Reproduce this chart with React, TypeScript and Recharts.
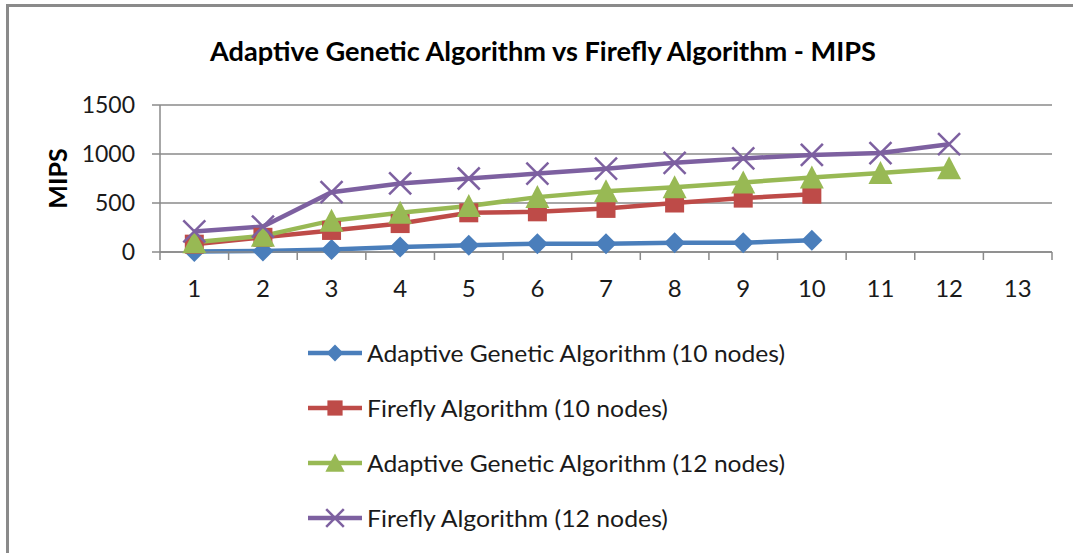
import React from "react";
import { LineChart, Line, XAxis, YAxis, CartesianGrid, Legend, Label } from "recharts";

const categories = [1, 2, 3, 4, 5, 6, 7, 8, 9, 10, 11, 12, 13];
const boundaryTicks = [0.5, 1.5, 2.5, 3.5, 4.5, 5.5, 6.5, 7.5, 8.5, 9.5, 10.5, 11.5, 12.5, 13.5];
const yTicks = [0, 500, 1000, 1500];

const aga10 = [5, 10, 25, 50, 70, 85, 85, 95, 95, 120];
const ff10 = [80, 150, 220, 290, 400, 410, 445, 500, 550, 590];
const aga12 = [100, 165, 320, 400, 470, 560, 620, 660, 710, 760, 805, 855];
const ff12 = [210, 260, 610, 700, 750, 800, 850, 910, 955, 990, 1010, 1100];

const seriesNames = [
  "Adaptive Genetic Algorithm (10 nodes)",
  "Firefly Algorithm (10 nodes)",
  "Adaptive Genetic Algorithm (12 nodes)",
  "Firefly Algorithm (12 nodes)",
];
const seriesKeys = ["aga10", "ff10", "aga12", "ff12"];
const seriesColors = ["#4A7EBB", "#BE4B48", "#98B954", "#7D60A0"];
const seriesShapes = ["diamond", "square", "triangle", "x"];

const data = categories.map((c, i) => ({
  x: c,
  aga10: aga10[i],
  ff10: ff10[i],
  aga12: aga12[i],
  ff12: ff12[i],
}));

const FONT = "Lato, 'Noto Sans', sans-serif";

function Marker({ shape, cx, cy, color, s = 1 }: any) {
  if (cx == null || cy == null || isNaN(cx) || isNaN(cy)) return null;
  if (shape === "diamond") {
    const r = 10.5 * s;
    return <polygon points={`${cx},${cy - r} ${cx + r},${cy} ${cx},${cy + r} ${cx - r},${cy}`} fill={color} />;
  }
  if (shape === "square") {
    const h = 9.5 * s;
    return <rect x={cx - h} y={cy - h} width={2 * h} height={2 * h} fill={color} />;
  }
  if (shape === "triangle") {
    const w = 12 * s;
    return <polygon points={`${cx},${cy - 12 * s} ${cx + w},${cy + 11 * s} ${cx - w},${cy + 11 * s}`} fill={color} />;
  }
  const a = 11 * s;
  return (
    <g stroke={color} strokeWidth={2.5}>
      <line x1={cx - a} y1={cy - a} x2={cx + a} y2={cy + a} />
      <line x1={cx - a} y1={cy + a} x2={cx + a} y2={cy - a} />
    </g>
  );
}

function makeDot(shape: string, color: string) {
  return (props: any) => {
    const { cx, cy, index } = props;
    return (
      <g key={`d-${shape}-${index}`}>
        <Marker shape={shape} cx={cx} cy={cy} color={color} />
      </g>
    );
  };
}

const EmptyTick = () => <g />;

const LegendContent = () => (
  <svg width={520} height={215}>
    {seriesNames.map((name, i) => {
      const cy = 23 + i * 55;
      return (
        <g key={name}>
          <line x1={8} y1={cy} x2={62} y2={cy} stroke={seriesColors[i]} strokeWidth={4.5} />
          <Marker shape={seriesShapes[i]} cx={35} cy={cy} color={seriesColors[i]} s={0.8} />
          <text
            x={67}
            y={cy + 8.7}
            fontFamily={FONT}
            fontSize={24}
            fill="#1a1a1a"
            textLength={i % 2 === 0 ? 418 : 301}
            lengthAdjust="spacingAndGlyphs"
          >
            {name}
          </text>
        </g>
      );
    })}
  </svg>
);

export default function App() {
  return (
    <div style={{ position: "absolute", left: 0, top: 0, width: 1073, height: 553, background: "#fff", overflow: "hidden" }}>
      <div style={{ position: "absolute", left: 6, top: 4, width: 1067, height: 2.5, background: "#8a8a8a" }} />
      <div style={{ position: "absolute", left: 6, top: 4, width: 2.5, height: 549, background: "#8a8a8a" }} />
      <svg style={{ position: "absolute", left: 0, top: 0 }} width={1073} height={80}>
        <text
          x={543}
          y={60.5}
          textAnchor="middle"
          fontFamily={FONT}
          fontWeight="bold"
          fontSize={27}
          fill="#000"
          textLength={666}
          lengthAdjust="spacingAndGlyphs"
        >
          Adaptive Genetic Algorithm vs Firefly Algorithm - MIPS
        </text>
      </svg>
      <div style={{ position: "absolute", left: 0, top: 0 }}>
        <LineChart width={1073} height={553} data={data} margin={{ top: 105, right: 21, bottom: 299, left: 0 }}>
          <CartesianGrid vertical={false} stroke="#8a8a8a" strokeWidth={1.5} />
          <XAxis
            dataKey="x"
            type="number"
            domain={[0.5, 13.5]}
            ticks={boundaryTicks}
            interval={0}
            tick={EmptyTick}
            tickSize={8}
            height={1}
            axisLine={{ stroke: "#8a8a8a", strokeWidth: 1.5 }}
            tickLine={{ stroke: "#8a8a8a", strokeWidth: 1.5 }}
          />
          <XAxis
            xAxisId="lbl"
            dataKey="x"
            type="number"
            domain={[0.5, 13.5]}
            ticks={categories}
            interval={0}
            axisLine={false}
            tickLine={false}
            tickSize={0}
            tickMargin={27}
            height={1}
            tick={{ fontFamily: FONT, fontSize: 24, fill: "#1a1a1a" }}
          />
          <YAxis
            domain={[0, 1500]}
            ticks={yTicks}
            interval={0}
            width={160}
            tickSize={8}
            tickMargin={17}
            axisLine={{ stroke: "#8a8a8a", strokeWidth: 1.5 }}
            tickLine={{ stroke: "#8a8a8a", strokeWidth: 1.5 }}
            tick={{ fontFamily: FONT, fontSize: 23, fill: "#1a1a1a" }}
          >
            <Label
              content={(p: any) => {
                const vb = p.viewBox || { y: 105, height: 147 };
                const cy = vb.y + vb.height / 2;
                return (
                  <text
                    x={57}
                    y={cy}
                    transform={`rotate(-90, 57, ${cy})`}
                    textAnchor="middle"
                    dominantBaseline="central"
                    fontFamily={FONT}
                    fontWeight="bold"
                    fontSize={25}
                    fill="#000"
                  >
                    MIPS
                  </text>
                );
              }}
            />
          </YAxis>
          <Legend
            layout="vertical"
            align="center"
            verticalAlign="middle"
            content={LegendContent}
            wrapperStyle={{ position: "absolute", left: 300, top: 330, width: 520, height: 215 }}
          />
          {seriesKeys.map((k, i) => (
            <Line
              key={k}
              dataKey={k}
              name={seriesNames[i]}
              stroke={seriesColors[i]}
              strokeWidth={4.5}
              dot={makeDot(seriesShapes[i], seriesColors[i])}
              activeDot={false}
              isAnimationActive={false}
            />
          ))}
        </LineChart>
      </div>
    </div>
  );
}
